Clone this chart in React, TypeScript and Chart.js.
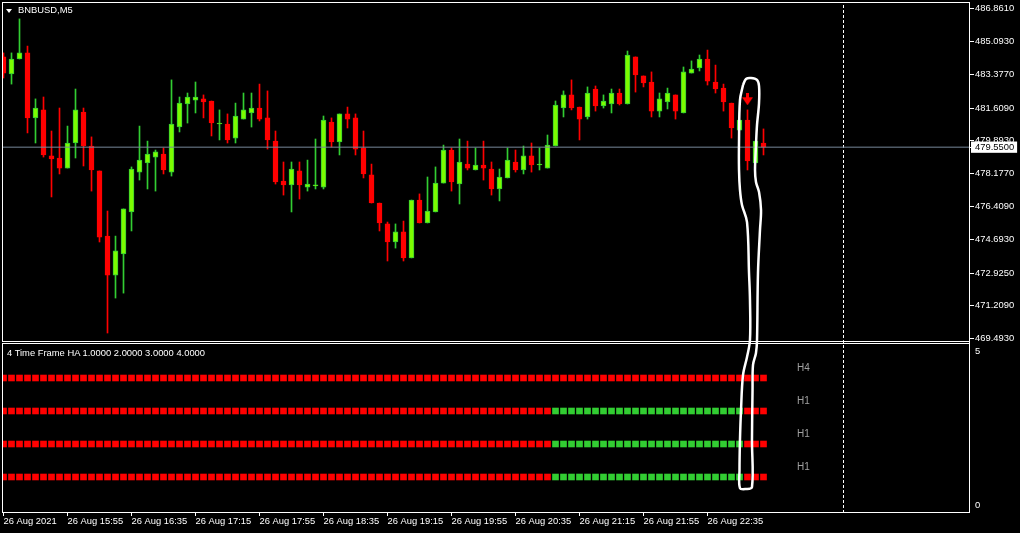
import { useEffect, useRef } from 'react';
import { Chart, registerables } from 'chart.js';

Chart.register(...registerables);

// ---------- data ----------
const symbolTitle = 'BNBUSD,M5';
const indicatorTitle = '4 Time Frame HA 1.0000 2.0000 3.0000 4.0000';

const timeLabels = [
  '26 Aug 2021', '26 Aug 15:55', '26 Aug 16:35', '26 Aug 17:15', '26 Aug 17:55', '26 Aug 18:35',
  '26 Aug 19:15', '26 Aug 19:55', '26 Aug 20:35', '26 Aug 21:15', '26 Aug 21:55', '26 Aug 22:35',
];
const timeLabelBars = [0, 8, 16, 24, 32, 40, 48, 56, 64, 72, 80, 88];

const priceTicks = [486.861, 485.093, 483.377, 481.609, 479.893, 478.177, 476.409, 474.693, 472.925, 471.209, 469.493];
const priceTickLabels = ['486.8610', '485.0930', '483.3770', '481.6090', '479.8930', '478.1770', '476.4090', '474.6930', '472.9250', '471.2090', '469.4930'];
const bidPrice = 479.55;
const bidLabel = '479.5500';

const opens = [
  484.30, 483.40, 484.19, 484.51, 481.09, 481.51, 479.09, 478.98,
  478.45, 479.77, 481.40, 479.61, 478.30, 474.87, 472.82, 473.93,
  476.14, 478.24, 478.72, 479.03, 479.19, 478.24, 480.61, 481.82,
  482.03, 482.09, 481.98, 480.77, 480.77, 480.03, 481.03, 481.35,
  481.61, 481.09, 479.87, 477.77, 477.56, 478.30, 477.45, 477.51,
  477.45, 480.87, 479.82, 481.30, 481.09, 479.51, 478.09, 476.61,
  475.51, 474.56, 475.09, 473.72, 476.77, 475.56, 476.14, 477.66,
  479.40, 477.61, 478.66, 478.35, 478.61, 478.40, 477.35, 477.93,
  478.77, 478.35, 479.09, 478.61, 478.45, 479.61, 481.61, 482.30,
  481.66, 481.14, 482.61, 481.72, 481.82, 482.40, 481.82, 484.30,
  483.30, 482.98, 481.45, 481.93, 482.30, 481.35, 483.45, 483.72,
  484.19, 482.98, 482.66, 481.87, 480.45, 480.98, 478.72, 479.77,
];
const highs = [
  484.51, 484.51, 486.30, 484.87, 482.09, 482.19, 480.40, 481.61,
  480.66, 482.61, 481.61, 480.09, 478.30, 476.19, 474.87, 476.30,
  478.51, 480.66, 479.87, 479.40, 479.51, 483.09, 482.19, 482.40,
  482.98, 482.30, 481.98, 481.51, 481.30, 481.87, 482.40, 482.40,
  482.87, 482.51, 480.40, 478.77, 478.77, 478.77, 478.87, 479.98,
  481.19, 481.09, 481.30, 481.66, 481.30, 480.40, 478.66, 476.61,
  475.61, 475.51, 475.66, 476.77, 477.09, 477.98, 478.51, 479.66,
  479.51, 479.98, 479.87, 479.51, 479.87, 478.77, 478.40, 479.51,
  479.40, 479.61, 479.77, 479.51, 480.19, 481.98, 482.51, 483.09,
  481.66, 482.72, 482.77, 482.30, 482.61, 482.61, 484.61, 484.30,
  483.30, 483.51, 482.40, 482.66, 482.30, 483.77, 484.09, 484.40,
  484.66, 483.87, 482.87, 481.87, 480.98, 481.51, 479.87, 480.51,
];
const lows = [
  483.19, 482.87, 484.19, 480.30, 479.77, 479.03, 476.93, 478.14,
  478.45, 478.98, 478.56, 477.24, 474.56, 469.77, 471.61, 471.87,
  475.14, 477.82, 477.35, 477.24, 478.14, 478.03, 480.35, 480.82,
  481.35, 481.09, 480.14, 479.93, 479.77, 479.77, 481.03, 480.61,
  480.93, 479.45, 477.61, 477.03, 476.14, 476.82, 477.24, 477.35,
  477.35, 479.56, 479.14, 480.56, 479.14, 477.93, 476.61, 475.14,
  473.56, 474.24, 473.56, 473.72, 475.56, 475.56, 476.14, 477.66,
  477.24, 476.56, 478.35, 478.35, 477.82, 477.03, 476.72, 477.93,
  478.24, 478.14, 478.24, 478.35, 478.45, 479.61, 481.14, 481.51,
  479.93, 481.03, 481.45, 481.61, 481.35, 481.77, 481.82, 482.45,
  482.72, 481.14, 481.14, 481.56, 481.03, 481.35, 483.45, 483.56,
  482.82, 482.40, 481.45, 480.03, 480.45, 478.35, 478.72, 479.14,
];
const closes = [
  483.45, 484.19, 484.51, 481.09, 481.61, 479.14, 478.93, 478.45,
  479.77, 481.51, 479.61, 478.35, 474.82, 472.82, 474.09, 476.30,
  478.40, 478.87, 479.19, 479.30, 478.35, 480.77, 481.87, 482.19,
  482.19, 481.93, 480.82, 480.77, 479.93, 481.19, 481.51, 481.61,
  481.03, 479.93, 477.72, 477.56, 478.40, 477.56, 477.61, 477.51,
  480.98, 479.82, 481.30, 481.03, 479.45, 478.14, 476.61, 475.56,
  474.56, 475.09, 473.72, 476.77, 475.56, 476.19, 477.66, 479.40,
  477.72, 478.77, 478.45, 478.61, 478.45, 477.35, 477.98, 478.87,
  478.35, 479.09, 478.61, 478.61, 479.66, 481.77, 482.30, 481.61,
  481.03, 482.40, 481.72, 481.98, 482.40, 481.82, 484.40, 483.35,
  482.93, 481.45, 482.09, 482.40, 481.45, 483.51, 483.66, 484.19,
  483.03, 482.61, 481.93, 480.56, 480.98, 478.82, 479.87, 479.55,
];

// sell arrow of the indicator
const signalBar = 93;
const signalPrice = 482.07;

// dashed vertical separator (bar position)
const separatorBar = 105;

// 4 Time Frame HA rows: value, label, colour per bar (R = red, G = green)
const rowValues = [4, 3, 2, 1];
const rowLabels = ['H4', 'H1', 'H1', 'H1'];
const rowLabelBar = 99.2;
const rowH4 = ['RRRRRRRR', 'RRRRRRRR', 'RRRRRRRR', 'RRRRRRRR', 'RRRRRRRR', 'RRRRRRRR',
  'RRRRRRRR', 'RRRRRRRR', 'RRRRRRRR', 'RRRRRRRR', 'RRRRRRRR', 'RRRRRRRR'].join('');
const rowH1a = ['RRRRRRRR', 'RRRRRRRR', 'RRRRRRRR', 'RRRRRRRR', 'RRRRRRRR', 'RRRRRRRR',
  'RRRRRRRR', 'RRRRRRRR', 'RRRRRGGG', 'GGGGGGGG', 'GGGGGGGG', 'GGGGGRRR'].join('');
const rowH1b = ['RRRRRRRR', 'RRRRRRRR', 'RRRRRRRR', 'RRRRRRRR', 'RRRRRRRR', 'RRRRRRRR',
  'RRRRRRRR', 'RRRRRRRR', 'RRRRRGGG', 'GGGGGGGG', 'GGGGGGGG', 'GGGGGRRR'].join('');
const rowH1c = ['RRRRRRRR', 'RRRRRRRR', 'RRRRRRRR', 'RRRRRRRR', 'RRRRRRRR', 'RRRRRRRR',
  'RRRRRRRR', 'RRRRRRRR', 'RRRRRGGG', 'GGGGGGGG', 'GGGGGGGG', 'GGGGGRRR'].join('');
const rowStates = [rowH4, rowH1a, rowH1b, rowH1c];
const indicatorAxisLabels = ['5', '0'];

// hand-drawn white loop (bar position, price)
const loopBars = [92.44, 92.81, 93.44, 94.19, 94.44, 94.44, 94.19, 94.06, 93.94, 94.06, 94.44, 94.69, 94.56,
  94.31, 94.19, 94.06, 93.69, 93.63, 93.56, 93.56, 92.81, 92.06, 92.00, 92.06, 92.19, 92.44, 92.94, 93.31,
  93.31, 93.19, 92.94, 92.31, 92.06, 91.94, 91.94, 92.06, 92.44];
const loopPrices = [482.82, 483.14, 483.19, 483.09, 482.77, 481.87, 480.72, 479.66, 478.35, 477.72, 477.19,
  476.24, 475.19, 472.93, 469.40, 468.72, 468.09, 466.77, 464.14, 461.66, 461.56, 461.61, 462.56, 464.14,
  465.72, 467.56, 468.51, 469.40, 471.51, 472.93, 475.61, 476.51, 477.30, 478.35, 479.93, 482.03, 482.82];

// ---------- styling ----------
const FONT = 'Liberation Sans';
const BULL_FILL = '#7cfc00';
const BULL_LINE = '#32cd32';
const BEAR = '#ff0000';
const SQ_GREEN = '#32cd32';
const SQ_RED = '#ff0000';

const framePlugin = {
  id: 'mtFrames',
  afterDraw(chart: any) {
    const { ctx, chartArea } = chart;
    const y2 = chart.scales.y2;
    const x = chart.scales.x;
    const L = chartArea.left + 0.5;
    const R = chartArea.right - 0.5;
    const T = chartArea.top + 0.5;
    const B = chartArea.bottom + 0.5;
    const indTop = Math.round(y2.getPixelForValue(5)) - 1.5;
    const mainBottom = indTop - 2;
    ctx.save();
    ctx.strokeStyle = '#ffffff';
    ctx.lineWidth = 1;
    ctx.strokeRect(L, T, R - L, mainBottom - T);
    ctx.strokeRect(L, indTop, R - L, B - indTop);
    ctx.beginPath();
    ctx.moveTo(R, T);
    ctx.lineTo(R, B);
    ctx.stroke();

    // indicator axis labels (5 top, 0 bottom)
    ctx.fillStyle = '#ffffff';
    ctx.font = `9.4px "${FONT}"`;
    ctx.textBaseline = 'middle';
    ctx.textAlign = 'left';
    ctx.fillText(indicatorAxisLabels[0], chartArea.right + 5, y2.getPixelForValue(5) + 6);
    ctx.fillText(indicatorAxisLabels[1], chartArea.right + 5, y2.getPixelForValue(0) - 5);

    // row labels
    ctx.fillStyle = '#a0a0a0';
    ctx.font = `10px "${FONT}"`;
    rowValues.forEach((v, k) => {
      ctx.fillText(rowLabels[k], x.getPixelForValue(rowLabelBar), y2.getPixelForValue(v) - 10);
    });
    ctx.restore();
  },
};

function makeArrow() {
  const c = document.createElement('canvas');
  c.width = 11;
  c.height = 12;
  const g = c.getContext('2d')!;
  g.fillStyle = BEAR;
  g.fillRect(4, 0, 3, 5);
  g.beginPath();
  g.moveTo(0, 4);
  g.lineTo(11, 4);
  g.lineTo(5.5, 12);
  g.closePath();
  g.fill();
  return c;
}

export default function App() {
  const ref = useRef<HTMLCanvasElement>(null);

  useEffect(() => {
    const bars = opens.map((_, i) => i);
    const bull = bars.map((i) => closes[i] >= opens[i]);

    const rowDatasets = rowValues.map((v, k) => ({
      type: 'bar' as const,
      yAxisID: 'y2',
      data: bars.map((i) => ({ x: i, y: [v - 0.09, v + 0.09] })),
      backgroundColor: bars.map((i) => (rowStates[k][i] === 'G' ? SQ_GREEN : SQ_RED)),
      borderWidth: 0,
      barThickness: 6,
      grouped: false,
      clip: 0,
      order: 6,
    }));

    const chart = new Chart(ref.current!, {
      type: 'bar',
      data: {
        datasets: [
          {
            type: 'line',
            yAxisID: 'y2',
            data: [{ x: separatorBar, y: -1 }, { x: separatorBar, y: 16 }],
            borderColor: '#ffffff',
            borderWidth: 1,
            borderDash: [3, 2],
            pointRadius: 0,
            order: 9,
          },
          {
            type: 'bar',
            yAxisID: 'y',
            data: bars.map((i) => ({ x: i, y: [lows[i], highs[i]] })),
            backgroundColor: bars.map((i) => (bull[i] ? BULL_LINE : BEAR)),
            borderWidth: 0,
            barThickness: 1,
            grouped: false,
            clip: 0,
            order: 8,
          },
          {
            type: 'bar',
            yAxisID: 'y',
            data: bars.map((i) => ({ x: i, y: [opens[i], closes[i]] })),
            backgroundColor: bars.map((i) => (bull[i] ? BULL_FILL : BEAR)),
            borderColor: bars.map((i) => (bull[i] ? BULL_LINE : BEAR)),
            borderWidth: 1,
            borderSkipped: false,
            barThickness: 5,
            minBarLength: 1,
            grouped: false,
            clip: 0,
            order: 7,
          },
          ...rowDatasets,
          {
            type: 'line',
            yAxisID: 'y',
            data: [{ x: -1, y: bidPrice }, { x: 122, y: bidPrice }],
            borderColor: '#778899',
            borderWidth: 1,
            pointRadius: 0,
            order: 5,
          },
          {
            type: 'line',
            yAxisID: 'y',
            data: [{ x: signalBar, y: signalPrice }],
            showLine: false,
            pointStyle: makeArrow(),
            pointRadius: 6,
            order: 2,
          },
          {
            type: 'line',
            yAxisID: 'y',
            data: loopBars.map((b, k) => ({ x: b, y: loopPrices[k] })),
            borderColor: '#ffffff',
            borderWidth: 2.5,
            tension: 0.35,
            pointRadius: 0,
            order: 1,
          },
        ] as any,
      },
      options: {
        responsive: false,
        animation: false,
        devicePixelRatio: 1,
        events: [],
        layout: { autoPadding: false, padding: { left: 2, top: 2, right: 0, bottom: 0 } },
        plugins: {
          legend: { display: false },
          tooltip: { enabled: false },
          title: { display: false },
        },
        scales: {
          x: {
            type: 'linear',
            position: 'bottom',
            offset: false,
            min: -0.1875,
            max: 120.8125,
            grid: { display: true, offset: false, drawOnChartArea: false, drawTicks: true, tickLength: 4, tickColor: '#ffffff', color: '#ffffff' },
            border: { display: false },
            ticks: {
              autoSkip: false,
              maxRotation: 0,
              minRotation: 0,
              align: 'start',
              padding: 0,
              color: '#ffffff',
              font: { family: FONT, size: 9.4 },
              callback: (_v: any, idx: number) => timeLabels[idx],
            },
            afterBuildTicks: (scale: any) => {
              scale.ticks = timeLabelBars.map((v) => ({ value: v }));
            },
            afterFit: (scale: any) => {
              scale.height = 21;
              scale.paddingLeft = 0;
              scale.paddingRight = 0;
            },
          },
          y: {
            type: 'linear',
            position: 'right',
            min: 460.35,
            max: 487.19,
            grid: { display: true, drawOnChartArea: false, drawTicks: true, tickLength: 4, tickColor: '#ffffff', color: '#ffffff' },
            border: { display: false },
            ticks: {
              autoSkip: false,
              padding: 1,
              font: { family: FONT, size: 9.4 },
              color: (c: any) => (c.index === priceTicks.length ? '#000000' : '#ffffff'),
              showLabelBackdrop: (c: any) => c.index === priceTicks.length,
              backdropColor: '#ffffff',
              backdropPadding: { top: 0, bottom: 0, left: 4, right: 3 },
              callback: (_v: any, idx: number) => (idx < priceTicks.length ? priceTickLabels[idx] : bidLabel),
            } as any,
            afterBuildTicks: (scale: any) => {
              scale.ticks = [...priceTicks, bidPrice].map((v) => ({ value: v }));
            },
            afterFit: (scale: any) => {
              scale.width = 50;
              scale.paddingTop = 0;
              scale.paddingBottom = 0;
            },
          },
          y2: {
            type: 'linear',
            display: false,
            min: -0.0606,
            max: 15.394,
          },
        },
      } as any,
      plugins: [framePlugin],
    });
    return () => chart.destroy();
  }, []);

  return (
    <div style={{ position: 'fixed', left: 0, top: 0, width: 1020, height: 533, background: '#000', overflow: 'hidden' }}>
      <canvas ref={ref} width={1020} height={533} style={{ position: 'absolute', left: 0, top: 0, width: 1020, height: 533 }} />
      <div
        style={{
          position: 'absolute', left: 6, top: 9, width: 0, height: 0,
          borderLeft: '3.5px solid transparent', borderRight: '3.5px solid transparent', borderTop: '4px solid #fff',
        }}
      />
      <div style={{ position: 'absolute', left: 18, top: 4, font: `9.4px "${FONT}"`, lineHeight: '12px', color: '#fff', whiteSpace: 'nowrap' }}>
        {symbolTitle}
      </div>
      <div style={{ position: 'absolute', left: 7, top: 347, font: `9.4px "${FONT}"`, lineHeight: '12px', color: '#fff', whiteSpace: 'nowrap' }}>
        {indicatorTitle}
      </div>
    </div>
  );
}
